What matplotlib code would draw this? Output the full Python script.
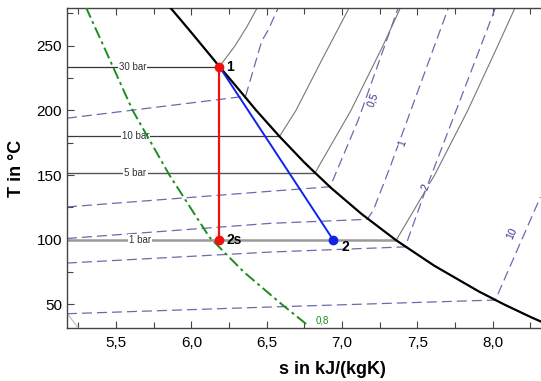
import matplotlib
matplotlib.use('Agg')
import matplotlib.pyplot as plt
from matplotlib.ticker import FuncFormatter, MultipleLocator
import numpy as np

plt.rcParams['font.family'] = ['Liberation Sans', 'DejaVu Sans']

# Sattdampfkurve (x = 1)
T_sat = [280, 270, 260, 250, 240, 233.9, 220, 200, 179.9, 160, 151.8, 140, 120, 99.6, 80, 60, 50, 40, 30]
s_sat = [5.857, 5.930, 6.002, 6.073, 6.144, 6.186, 6.288, 6.431, 6.585, 6.748, 6.821, 6.928, 7.129, 7.359, 7.611, 7.908, 8.075, 8.256, 8.452]

# Isobaren: Sattdampftemperatur und Verlauf im Heissdampfgebiet
p_labels = ['30 bar', '10 bar', '5 bar', '1 bar']
p_Tsat = [233.9, 179.9, 151.8, 99.6]
p_label_s = [5.61, 5.63, 5.63, 5.66]
p_sup_s = [[6.186, 6.29, 6.37, 6.44],
           [6.585, 6.694, 6.87, 7.05],
           [6.821, 7.059, 7.271, 7.39],
           [7.359, 7.614, 7.834, 8.033, 8.15]]
p_sup_T = [[233.9, 250, 265, 280],
           [179.9, 200, 240, 280],
           [151.8, 200, 250, 280],
           [99.6, 150, 200, 250, 280]]

# Isochoren v in m3/kg
v_labels = ['0,1', '0,5', '1', '2', '10']
v_s = [[5.175, 6.36, 6.467, 6.509, 6.576],
       [5.175, 6.523, 6.921, 7.107, 7.372],
       [5.175, 6.523, 7.167, 7.207, 7.319, 7.705],
       [5.175, 6.523, 7.419, 7.55, 8.017],
       [5.175, 6.523, 8.017, 8.316]]
v_T = [[194, 211, 253.6, 262, 279.2],
       [125.4, 137.5, 141, 192.5, 279.2],
       [101, 112.7, 115.8, 122.7, 156.3, 279.2],
       [82, 90.5, 94.5, 137, 279.2],
       [42.8, 48.0, 53.4, 133]]
# Beschriftungsposition (s, T, Winkel), None = ohne Beschriftung
v_text = [None, (7.207, 208, 70), (7.40, 175, 70), (7.555, 141, 69), (8.127, 104.7, 65)]

# Linie konstanten Dampfgehalts x = 0,8
x08_s = [5.300, 5.417, 5.611, 5.855, 6.12, 6.349, 6.601, 6.782]
x08_T = [280, 250, 200, 150, 102, 75, 50, 33]

# Zustandspunkte
s1, T1 = 6.186, 233.9
s2s, T2s = 6.186, 99.6
s2, T2 = 6.943, 99.6

fig = plt.figure(figsize=(5.41, 3.81), dpi=100)
ax = fig.add_axes([0.1238, 0.1399, 0.8762, 0.8383])

s_min, s_max = 5.175, 8.32

# Isochoren
for s, T, txt, lab in zip(v_s, v_T, v_text, v_labels):
    ax.plot(s, T, color='#6a6aae', lw=0.9, dashes=(8, 4), zorder=2)
    if txt is not None:
        ax.text(txt[0], txt[1], lab, rotation=txt[2], color='#33338a', fontsize=7.5,
                ha='center', va='center', zorder=3,
                bbox=dict(facecolor='white', edgecolor='none', pad=0.6))

# Isobaren
p_colors = ['#333333', '#3a3a3a', '#555555', '#9a9a9a']
p_widths = [0.9, 0.9, 1.0, 1.8]
for lab, Ts, sl, ss, TT, c, w in zip(p_labels, p_Tsat, p_label_s, p_sup_s, p_sup_T, p_colors, p_widths):
    ax.plot([s_min, ss[0]], [Ts, Ts], color=c, lw=w, zorder=2)
    ax.plot(ss, TT, color='#777777', lw=0.8, zorder=2)
    ax.text(sl, Ts, lab, fontsize=7, color='#333333', ha='center', va='center', zorder=3,
            bbox=dict(facecolor='white', edgecolor='none', pad=0.8))

ax.plot([5.175, 5.248], [43, 32.2], color='#bbbbbb', lw=0.8, zorder=2)

# x = 0,8
ax.plot(x08_s, x08_T, color='#1e8c1e', lw=1.4, dashes=(6, 2, 1.5, 2), zorder=3)
ax.text(6.87, 37.5, '0,8', color='#1e8c1e', fontsize=7, ha='center', va='center')

# Sattdampflinie
ax.plot(s_sat, T_sat, color='black', lw=1.6, zorder=4)

# Expansion 1 -> 2s (isentrop) und 1 -> 2 (real)
ax.plot([s1, s2s], [T1, T2s], color='#ee1111', lw=1.6, zorder=5)
ax.plot([s1, s2], [T1, T2], color='#1122ee', lw=1.4, zorder=5)
ax.plot([s1, s2s], [T1, T2s], 'o', color='#ee1111', ms=6, zorder=6)
ax.plot([s2], [T2], 'o', color='#1122ee', ms=6, zorder=6)
ax.annotate('1', (s1, T1), xytext=(5, 0), textcoords='offset points',
            fontsize=10, fontweight='bold', va='center', zorder=7)
ax.annotate('2s', (s2s, T2s), xytext=(5, 0), textcoords='offset points',
            fontsize=10, fontweight='bold', va='center', zorder=7)
ax.annotate('2', (s2, T2), xytext=(6, -5), textcoords='offset points',
            fontsize=10, fontweight='bold', va='center', zorder=7)

ax.set_xlim(s_min, s_max)
ax.set_ylim(32, 279)
ax.xaxis.set_major_locator(MultipleLocator(0.5))
ax.xaxis.set_minor_locator(MultipleLocator(0.25))
ax.yaxis.set_major_locator(MultipleLocator(50))
ax.yaxis.set_minor_locator(MultipleLocator(25))
ax.xaxis.set_major_formatter(FuncFormatter(lambda v, p: f'{v:.1f}'.replace('.', ',')))
ax.tick_params(which='both', direction='in', top=True, right=False, color='#444444',
               labelsize=11, width=0.8)
ax.tick_params(which='major', length=5)
ax.tick_params(which='minor', length=4)
ax.tick_params(axis='x', pad=6)
ax.spines['right'].set_visible(False)
for sp in ['left', 'top', 'bottom']:
    ax.spines[sp].set_color('#444444')
    ax.spines[sp].set_linewidth(1.0)

ax.set_xlabel('s in kJ/(kgK)', fontsize=13, fontweight='bold')
ax.set_ylabel('T in °C', fontsize=13, fontweight='bold')
ax.xaxis.set_label_coords(0.561, -0.105)
ax.yaxis.set_label_coords(-0.088, 0.5)

fig.savefig('out.png', dpi=100)
